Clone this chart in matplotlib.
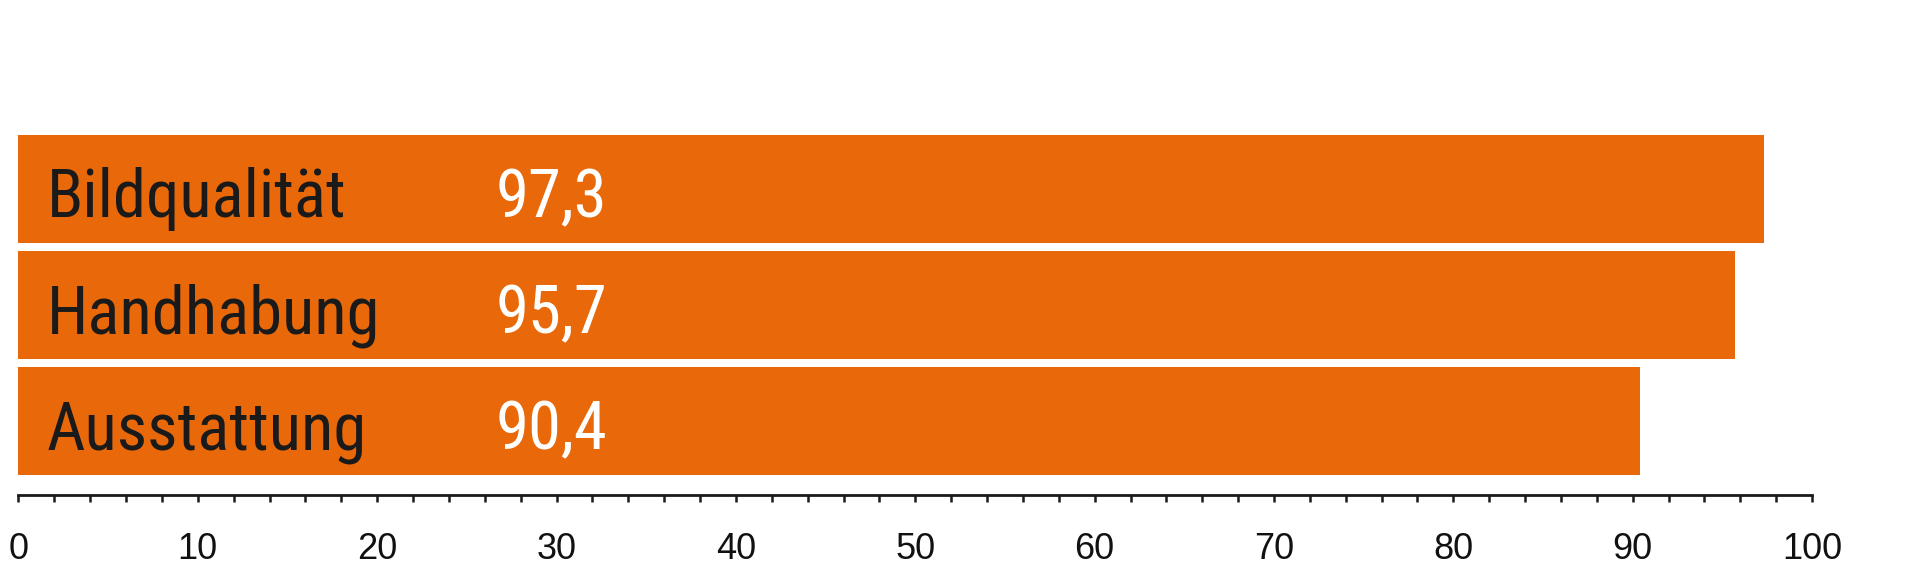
import matplotlib.pyplot as plt
from matplotlib.ticker import MultipleLocator

# Werte aus der Grafik
categories = ['Bildqualität', 'Handhabung', 'Ausstattung']
scores = [97.3, 95.7, 90.4]
score_labels = ['97,3', '95,7', '90,4']
major_ticks = [0, 10, 20, 30, 40, 50, 60, 70, 80, 90, 100]

bar_color = '#E9690A'
label_font = ['Roboto Condensed', 'DejaVu Sans']

fig = plt.figure(figsize=(19.2, 5.84), dpi=100)
ax = fig.add_axes([0.0096, 0.1529, 0.9342, 0.8471])

y_pos = list(range(len(categories)))
ax.barh(y_pos, scores, height=0.93, color=bar_color, edgecolor='none')

# Beschriftungen in den Balken
for y, name, lab in zip(y_pos, categories, score_labels):
    ax.text(1.57, y + 0.243, name, family=label_font, fontsize=48,
            color='#1a1a1a', va='baseline', ha='left')
    ax.text(26.6, y + 0.243, lab, family=label_font, fontsize=48,
            color='white', va='baseline', ha='left')

ax.set_xlim(0, 100)
ax.set_ylim(2.634, -1.625)

ax.set_xticks(major_ticks)
ax.xaxis.set_minor_locator(MultipleLocator(2))
ax.tick_params(axis='x', which='both', direction='out', length=5, width=1.8,
               color='#1a1a1a', pad=22, labelsize=26, labelcolor='#111111')
ax.set_yticks([])

for side in ['top', 'right', 'left']:
    ax.spines[side].set_visible(False)
ax.spines['bottom'].set_linewidth(2)
ax.spines['bottom'].set_color('#1a1a1a')

for lbl in ax.get_xticklabels():
    lbl.set_family(['Liberation Sans', 'DejaVu Sans'])

fig.savefig('out.png', dpi=100)
